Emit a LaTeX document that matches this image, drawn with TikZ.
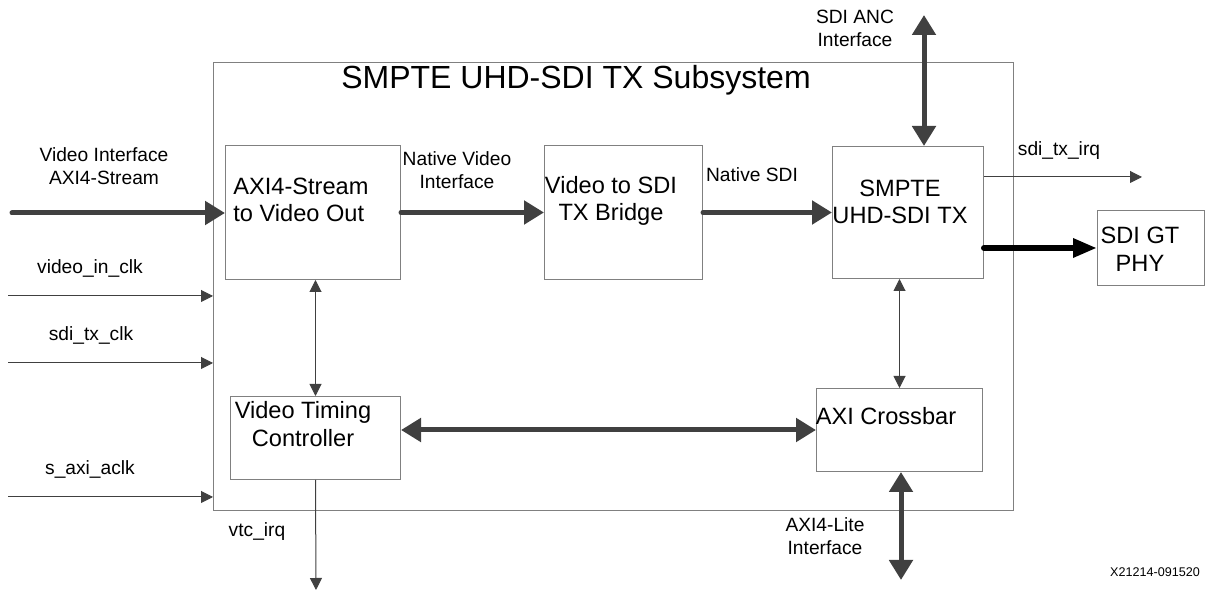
\documentclass[tikz,border=0pt]{standalone}
\usepackage{fontspec}
\setmainfont{Liberation Sans}
\usetikzlibrary{arrows.meta, calc, positioning}

\begin{document}
\begin{tikzpicture}[x=0.5pt, y=-0.5pt, font=\fontsize{9.6}{11.5}\selectfont,
  blk/.style={draw=black!50, line width=0.5pt, anchor=north west, inner sep=0pt},
  txt/.style={align=center, inner sep=0pt},
  big/.style={font=\fontsize{11.8}{13.8}\selectfont},
  bus/.style={draw=black!75, line width=2.5pt, line cap=round, -{Triangle[length=10pt,width=11.5pt]}},
  dbus/.style={bus, {Triangle[length=10pt,width=11.5pt]}-{Triangle[length=10pt,width=11.5pt]}},
  sig/.style={draw=black!75, line width=0.5pt, -{Triangle[length=6pt,width=6pt]}},
  dsig/.style={sig, {Triangle[length=6pt,width=6pt]}-{Triangle[length=6pt,width=6pt]}}]
\useasboundingbox (0,0) rectangle (1206,592);

% subsystem and blocks
\node[blk, minimum width=400pt, minimum height=224pt] (sub) at (213,62) {};
\node[txt, font=\fontsize{16}{19}\selectfont] (title) at (576,80) {SMPTE UHD-SDI TX Subsystem};

\node[blk, minimum width=87.5pt, minimum height=67pt] (s2v) at (225,145) {};
\node[blk, minimum width=79pt, minimum height=67pt] (v2s) at (544,145) {};
\node[blk, minimum width=75.5pt, minimum height=66pt] (tx) at (832,146) {};
\node[blk, minimum width=53.5pt, minimum height=37.5pt] (phy) at (1097,210) {};
\node[blk, minimum width=85pt, minimum height=41.5pt] (vtc) at (230,396) {};
\node[blk, minimum width=83pt, minimum height=41.5pt] (xbar) at (816,388) {};

\node[txt, big, align=left, anchor=west] (s2vt) at (233,200) {AXI4-Stream\\to Video Out};
\node[txt, big] (v2st) at (611,201) {Video to SDI\\TX Bridge};
\node[txt, big] (txt) at (900,202) {SMPTE\\UHD-SDI TX};
\node[txt, big] (phyt) at (1140,249) {SDI GT\\PHY};
\node[txt, big] (vtct) at (303,424) {Video Timing\\Controller};
\node[txt, big] (xbart) at (886,416) {AXI Crossbar};

% free ends
\coordinate (vin) at (12,213);
\coordinate (clk1) at (8,296);
\coordinate (clk2) at (8,363);
\coordinate (clk3) at (8,497);
\coordinate (anc) at (924,15);
\coordinate (irq) at (1142,177);
\coordinate (virq) at (316,590);
\coordinate (lite) at (901,580);

% connectors
\draw[bus] (vin) -- (vin -| s2v.west);
\draw[sig] (clk1) -- (clk1 -| sub.west);
\draw[sig] (clk2) -- (clk2 -| sub.west);
\draw[sig] (clk3) -- (clk3 -| sub.west);
\draw[bus] (s2v.east) -- (s2v.east -| v2s.west);
\draw[bus] (v2s.east) -- (v2s.east -| tx.west);
\draw[dbus] (anc) -- (anc |- tx.north);
\draw[sig] (irq -| tx.east) -- (irq);
\draw[bus, draw=black, line width=3pt, -{Triangle[length=12pt,width=9pt]}] (phy.west -| tx.east) -- (phy.west);
\draw[dsig] (vtc.north |- s2v.south) -- (vtc.north);
\draw[dsig] (xbar.north |- tx.south) -- (xbar.north);
\draw[dbus] (vtc.east |- xbar.west) -- (xbar.west);
\draw[sig] (vtc.south) -- (virq);
\draw[dbus] (lite |- xbar.south) -- (lite);

% labels
\node[txt] (l1) at (104,166) {Video Interface\\AXI4-Stream};
\node[txt] (l2) at (90,268) {video\_in\_clk};
\node[txt] (l3) at (91,335) {sdi\_tx\_clk};
\node[txt] (l4) at (90,469) {s\_axi\_aclk};
\node[txt] (l5) at (257,532) {vtc\_irq};
\node[txt] (l6) at (457,170) {Native Video\\Interface};
\node[txt] (l7) at (752,175) {Native SDI};
\node[txt] (l8) at (855,28) {SDI ANC\\Interface};
\node[txt] (l9) at (1059,151) {sdi\_tx\_irq};
\node[txt] (l10) at (825,536) {AXI4-Lite\\Interface};
\node[txt, font=\fontsize{6.3}{7}\selectfont] (l11) at (1155,572) {X21214-091520};
\end{tikzpicture}
\end{document}
